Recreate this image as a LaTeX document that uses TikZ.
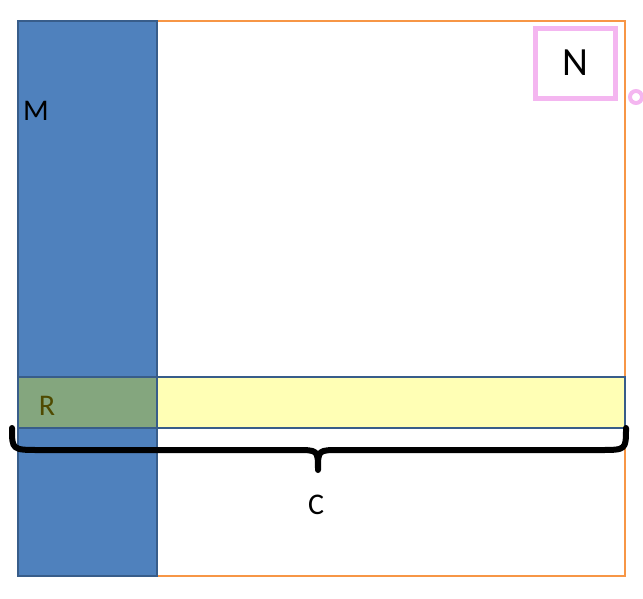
\documentclass[tikz,border=0pt]{standalone}
\usepackage{fontspec}
\setmainfont{Carlito}
\definecolor{blockblue}{HTML}{4F81BD}
\definecolor{edgeblue}{HTML}{385D8A}
\definecolor{baryellow}{HTML}{FFFFB5}
\definecolor{overlapgreen}{HTML}{84A67E}
\definecolor{frameorange}{HTML}{F79646}
\definecolor{notepink}{HTML}{F4B6F0}
\definecolor{labelolive}{HTML}{4F4A00}
\tikzset{
  region/.style={draw=edgeblue, line width=1.5pt},
  lbl/.style={inner sep=0pt, font=\fontsize{30}{30}\selectfont}
}
\begin{document}
\begin{tikzpicture}[x=1pt,y=-1pt]
\useasboundingbox (0,0) rectangle (643,598);
% frame
\draw[frameorange, line width=2pt] (18,21) rectangle (625,576);
% column M and bar R
\fill[baryellow] (157,377) rectangle (625,428);
\fill[blockblue] (18,21) rectangle (157,576);
\fill[overlapgreen] (18,377) rectangle (157,428);
\draw[region] (18,21) rectangle (157,576);
\draw[region] (18,377) rectangle (625,428);
\node[lbl] (m) at (36,111) {M};
\node[lbl, text=labelolive] (r) at (47,406) {R};
% brace
\draw[line width=6pt, line cap=round, line join=round]
  (12,428) .. controls (12,450) .. (40,450) -- (296,450)
  .. controls (318,450) .. (318,470)
  .. controls (318,450) .. (340,450) -- (600,450)
  .. controls (626,450) .. (626,428);
\node[lbl] (c) at (316,505) {C};
% note N
\node[draw=notepink, line width=5pt, minimum width=80pt, minimum height=70pt,
  font=\fontsize{40}{40}\selectfont] (n) at (575,63) {N};
\draw[notepink, line width=4pt] (636,97) circle (6);
\end{tikzpicture}
\end{document}
